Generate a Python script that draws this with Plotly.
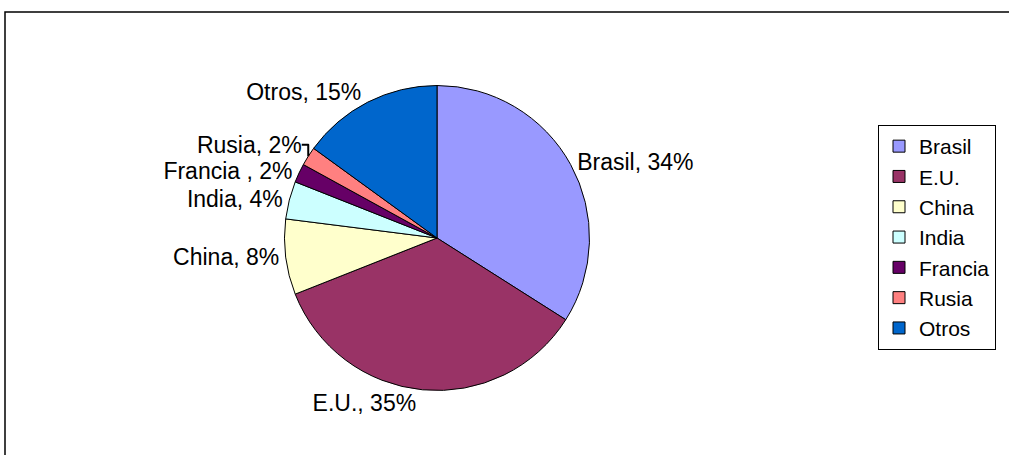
import plotly.graph_objects as go

countries = ["Brasil", "E.U.", "China", "India", "Francia", "Rusia", "Otros"]
label_names = ["Brasil", "E.U.", "China", "India", "Francia ", "Rusia", "Otros"]
shares = [34, 35, 8, 4, 2, 2, 15]
colors = ["#9999FF", "#993366", "#FFFFCC", "#CCFFFF", "#660066", "#FF8080", "#0066CC"]

W, H = 1009, 455
font = "Liberation Sans, Arial, sans-serif"

texts = [f"{n}, {v}%" for n, v in zip(label_names, shares)]

cx, cy, d = 437, 238, 305
fig = go.Figure(go.Pie(
    labels=countries,
    values=shares,
    text=texts,
    texttemplate="%{text}",
    textposition="outside",
    sort=False,
    direction="clockwise",
    rotation=0,
    marker=dict(colors=colors, line=dict(color="black", width=1)),
    outsidetextfont=dict(family=font, size=23, color="black"),
    domain=dict(x=[(cx - d / 2) / W, (cx + d / 2) / W],
                y=[(H - cy - d / 2) / H, (H - cy + d / 2) / H]),
    hoverinfo="label+percent",
))

fig.update_layout(
    width=W, height=H,
    margin=dict(l=0, r=0, t=0, b=0),
    paper_bgcolor="white",
    plot_bgcolor="white",
    showlegend=True,
    legend=dict(
        x=878 / W, y=1 - 125 / H, xanchor="left", yanchor="top",
        bordercolor="black", borderwidth=1,
        font=dict(family=font, size=21, color="black"),
        tracegroupgap=0, itemwidth=30,
        bgcolor="white",
    ),
    shapes=[dict(type="rect", xref="paper", yref="paper",
                 x0=5 / W, x1=1.02, y0=-0.02, y1=1 - 12 / H,
                 line=dict(color="black", width=1.5), fillcolor="rgba(0,0,0,0)", layer="below")],
)

fig.write_html("out.html", config={"displayModeBar": False},
               post_script="document.body.style.margin='0';document.body.style.overflow='hidden';")
